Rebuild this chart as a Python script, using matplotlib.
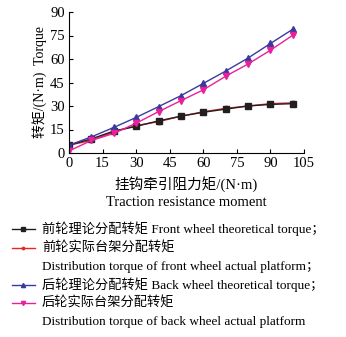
import numpy as np
import matplotlib
matplotlib.use("Agg")
import matplotlib.pyplot as plt
from matplotlib.lines import Line2D

plt.rcParams['font.family'] = ['Liberation Serif', 'Noto Sans CJK SC']
plt.rcParams['font.size'] = 9.5

# Traction resistance moment (N*m)
load = [0, 10, 20, 30, 40, 50, 60, 70, 80, 90, 100]
# Torque series (N*m)
front_theory = [5, 9, 14, 17, 20.5, 23.5, 26, 28, 30, 31, 31.5]
front_actual = [5, 8, 13.5, 17.5, 20, 23.5, 26.3, 28.5, 30, 31.5, 32]
back_theory = [5, 10.3, 16.3, 22.7, 29.6, 36.6, 44.4, 52.3, 60.6, 69.9, 79]
back_actual = [1.3, 8, 12.5, 19, 26.4, 33.4, 40.3, 49, 56.8, 65.6, 75.2]

xticks = [0, 15, 30, 45, 60, 75, 90, 105]
yticks = [0, 15, 30, 45, 60, 75, 90]

series = [
    (front_actual, '#e8262a', 'o', 3.2, ['前轮实际台架分配转矩', 'Distribution torque of front wheel actual platform；']),
    (front_theory, '#231f20', 's', 4.5, ['前轮理论分配转矩 Front wheel theoretical torque；']),
    (back_theory, '#3a3a9e', '^', 4.5, ['后轮理论分配转矩 Back wheel theoretical torque；']),
    (back_actual, '#e8209a', 'v', 4.5, ['后轮实际台架分配转矩', 'Distribution torque of back wheel actual platform']),
]

W, H = 346, 337
fig = plt.figure(figsize=(W / 100, H / 100), dpi=100)
ax = fig.add_axes([69 / W, 1 - 153 / H, (304 - 69) / W, (153 - 12) / H])

for vals, col, mk, ms, _ in series:
    ax.plot(load, vals, color=col, marker=mk, markersize=ms, linewidth=1.0)

ax.set_xlim(0, 105)
ax.set_ylim(0, 90)
ax.set_xticks(xticks)
ax.set_yticks(yticks)
ax.spines['top'].set_visible(False)
ax.spines['right'].set_visible(False)
ax.tick_params(direction='in', length=3, width=0.8, labelsize=10.5, pad=3)
ax.set_ylabel('转矩/(N·m)  Torque', fontsize=10, labelpad=2)

fig.text((69 + 304) / 2 / W, 1 - 184 / H, '挂钩牵引阻力矩/(N·m)', ha='center', va='center', fontsize=10.5)
fig.text((69 + 304) / 2 / W, 1 - 203 / H, 'Traction resistance moment', ha='center', va='center', fontsize=10.5)

# legend drawn by hand so that the marker sits on the first text line
legend_order = [1, 0, 2, 3]
rows = [229, 248, 285, 303]
for idx, y in zip(legend_order, rows):
    vals, col, mk, ms, lines = series[idx]
    fy = 1 - y / H
    fig.add_artist(Line2D([12 / W, 35 / W], [fy, fy], color=col, linewidth=1.0,
                          transform=fig.transFigure))
    fig.add_artist(Line2D([23.5 / W], [fy], color=col, marker=mk, markersize=ms - 1.5,
                          transform=fig.transFigure))
    for k, t in enumerate(lines):
        fig.text(42 / W, 1 - (y + 19 * k) / H, t, ha='left', va='center', fontsize=9.5)

fig.savefig('out.png', dpi=100)
